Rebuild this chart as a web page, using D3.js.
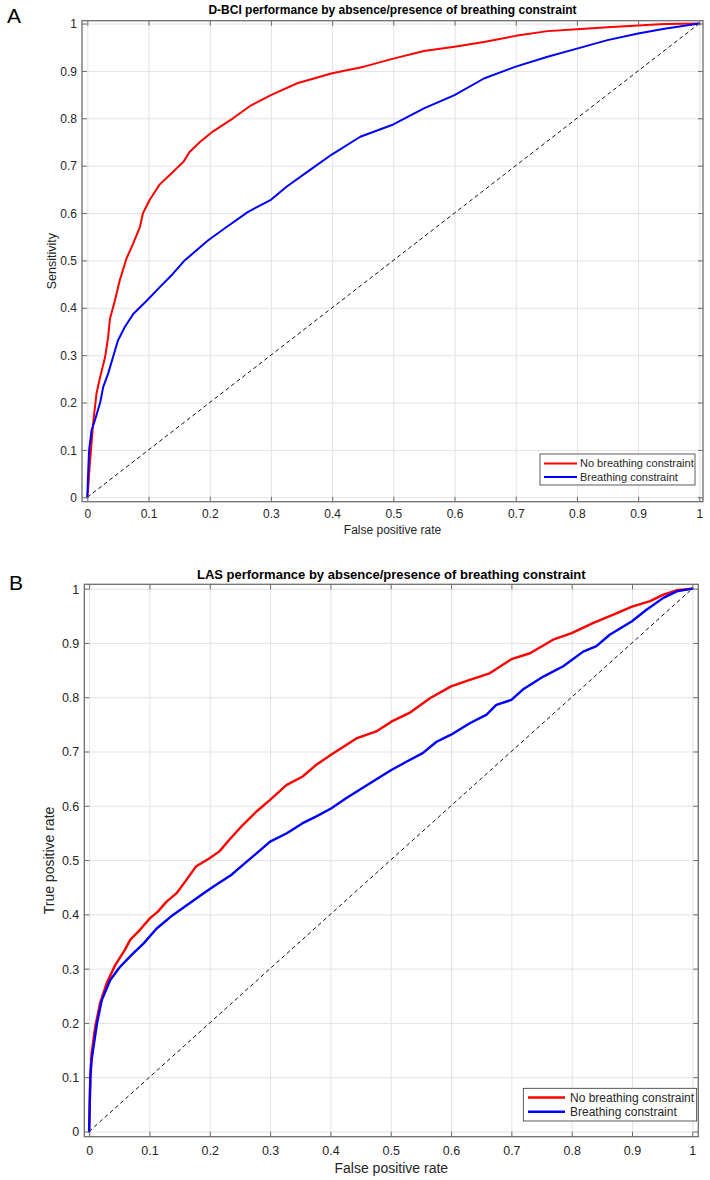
<!DOCTYPE html>
<html>
<head>
<meta charset="utf-8">
<script src="https://cdn.jsdelivr.net/npm/d3@7"></script>
<style>
  body { margin: 0; background: #fff; }
  svg { display: block; font-family: "Liberation Sans", Arial, Helvetica, sans-serif; }
</style>
</head>
<body>
<svg id="chart" width="710" height="1180"></svg>
<script>
// ---------- DATA ----------
const tickValues = [0, 0.1, 0.2, 0.3, 0.4, 0.5, 0.6, 0.7, 0.8, 0.9, 1];
const seriesNames = ["No breathing constraint", "Breathing constraint"];

const titleA = "D-BCI performance by absence/presence of breathing constraint";
const xLabelA = "False positive rate";
const yLabelA = "Sensitivity";
// [false positive rate, sensitivity]
const rocA_none = [[0,0],[0.002,0.03],[0.004,0.07],[0.006,0.1],[0.01,0.163],[0.015,0.219],[0.021,0.254],[0.029,0.296],[0.034,0.338],[0.037,0.377],[0.045,0.415],[0.053,0.458],[0.064,0.504],[0.075,0.536],[0.086,0.571],[0.091,0.6],[0.102,0.628],[0.118,0.66],[0.135,0.681],[0.157,0.708],[0.167,0.729],[0.184,0.75],[0.205,0.772],[0.238,0.8],[0.266,0.826],[0.3,0.849],[0.343,0.874],[0.4,0.895],[0.452,0.909],[0.5,0.926],[0.55,0.942],[0.6,0.951],[0.648,0.961],[0.7,0.974],[0.752,0.984],[0.8,0.988],[0.85,0.992],[0.9,0.996],[0.943,0.999],[1,1]];
const rocA_breath = [[0,0],[0.001,0.04],[0.003,0.1],[0.007,0.142],[0.0125,0.163],[0.021,0.2],[0.026,0.233],[0.034,0.261],[0.042,0.296],[0.05,0.331],[0.061,0.359],[0.075,0.387],[0.097,0.415],[0.118,0.443],[0.14,0.472],[0.159,0.5],[0.178,0.521],[0.197,0.542],[0.227,0.57],[0.262,0.602],[0.3,0.628],[0.326,0.656],[0.364,0.691],[0.4,0.724],[0.446,0.761],[0.5,0.787],[0.55,0.821],[0.6,0.849],[0.648,0.884],[0.7,0.909],[0.752,0.93],[0.8,0.947],[0.85,0.965],[0.9,0.979],[0.943,0.989],[1,1]];

const titleB = "LAS performance by absence/presence of breathing constraint";
const xLabelB = "False positive rate";
const yLabelB = "True positive rate";
const rocB_none = [[0,0],[0.001,0.05],[0.002,0.1],[0.004,0.143],[0.01,0.192],[0.018,0.236],[0.029,0.273],[0.043,0.306],[0.059,0.334],[0.068,0.353],[0.084,0.371],[0.101,0.393],[0.114,0.405],[0.128,0.423],[0.145,0.439],[0.161,0.463],[0.177,0.488],[0.199,0.503],[0.216,0.516],[0.232,0.537],[0.255,0.565],[0.277,0.589],[0.3,0.611],[0.327,0.638],[0.354,0.654],[0.376,0.675],[0.401,0.694],[0.443,0.724],[0.476,0.737],[0.501,0.755],[0.531,0.771],[0.565,0.798],[0.6,0.82],[0.631,0.832],[0.664,0.844],[0.7,0.87],[0.731,0.881],[0.769,0.906],[0.8,0.918],[0.836,0.937],[0.869,0.952],[0.9,0.967],[0.93,0.977],[0.952,0.989],[0.974,0.997],[1,1]];
const rocB_breath = [[0,0],[0.001,0.05],[0.002,0.1],[0.004,0.131],[0.013,0.199],[0.021,0.242],[0.035,0.279],[0.051,0.303],[0.073,0.328],[0.09,0.346],[0.112,0.374],[0.139,0.399],[0.166,0.42],[0.194,0.442],[0.21,0.454],[0.235,0.472],[0.255,0.491],[0.277,0.512],[0.3,0.534],[0.327,0.549],[0.354,0.568],[0.376,0.58],[0.401,0.595],[0.426,0.614],[0.465,0.641],[0.501,0.666],[0.526,0.681],[0.553,0.697],[0.576,0.718],[0.6,0.731],[0.631,0.752],[0.659,0.768],[0.675,0.786],[0.7,0.795],[0.719,0.814],[0.753,0.838],[0.786,0.857],[0.819,0.884],[0.841,0.894],[0.863,0.915],[0.9,0.94],[0.924,0.961],[0.952,0.983],[0.974,0.995],[1,1]];
const chanceLine = [[0,0],[1,1]];

// ---------- LAYOUT ----------
const panels = [
  { letter: "A", title: titleA, xLabel: xLabelA, yLabel: yLabelA, series: [rocA_none, rocA_breath],
    left: 82, right: 703, top: 20.7, bottom: 501.7,
    xDom: [-0.0087, 1.006], yDom: [-0.0093, 1.006],
    tickFont: 12, titleFont: 12, labelFont: 12.5, xLabelFont: 12, legendFont: 11, lineW: 2,
    letterX: 7, letterY: 23, titleY: 14, xTickY: 514, xLabelY: 534, yLabelX: 56,
    legend: { x: 540, y: 454, w: 155, h: 31, lineX0: 544, lineX1: 577, textX: 580, row0: 463.5, row1: 477 } },
  { letter: "B", title: titleB, xLabel: xLabelB, yLabel: yLabelB, series: [rocB_none, rocB_breath],
    left: 84.3, right: 698.3, top: 584.3, bottom: 1136.7,
    xDom: [-0.008, 1.0099], yDom: [-0.0096, 1.008],
    tickFont: 12.5, titleFont: 13, labelFont: 14, xLabelFont: 14, legendFont: 12, lineW: 2.4,
    letterX: 9, letterY: 590, titleY: 579, xTickY: 1150.5, xLabelY: 1173, yLabelX: 54,
    legend: { x: 523.3, y: 1088.3, w: 173.4, h: 32.7, lineX0: 528, lineX1: 565, textX: 570, row0: 1097.5, row1: 1111.7 } }
];
const colors = ["#ff0000", "#0000ff"];
const textColor = "#262626";
const axisColor = "#6e6e6e";
const gridColor = "#e3e3e3";

const svg = d3.select("#chart");
const fmt = d3.format("~g");

panels.forEach(p => {
  const g = svg.append("g");
  const x = d3.scaleLinear().domain(p.xDom).range([p.left, p.right]);
  const y = d3.scaleLinear().domain(p.yDom).range([p.bottom, p.top]);
  const W = p.right - p.left, H = p.bottom - p.top;

  g.append("rect").attr("x", p.left).attr("y", p.top).attr("width", W).attr("height", H).attr("fill", "#fff");

  // grid
  const gx = g.append("g").attr("transform", `translate(0,${p.bottom})`)
    .call(d3.axisBottom(x).tickValues(tickValues).tickSize(-H).tickFormat(""));
  const gy = g.append("g").attr("transform", `translate(${p.left},0)`)
    .call(d3.axisLeft(y).tickValues(tickValues).tickSize(-W).tickFormat(""));
  [gx, gy].forEach(a => {
    a.select(".domain").remove();
    a.selectAll("line").attr("stroke", gridColor).attr("stroke-width", 1);
  });

  // chance line
  const line = d3.line().x(d => x(d[0])).y(d => y(d[1]));
  g.append("path").datum(chanceLine).attr("d", line)
    .attr("fill", "none").attr("stroke", "#111").attr("stroke-width", 1)
    .attr("stroke-dasharray", "4,3");

  // ROC curves
  p.series.forEach((s, i) => {
    g.append("path").datum(s).attr("d", line)
      .attr("fill", "none").attr("stroke", colors[i]).attr("stroke-width", p.lineW)
      .attr("stroke-linejoin", "round").attr("stroke-linecap", "round");
  });

  // axes with inward ticks
  const tick = 5;
  const axB = g.append("g").attr("transform", `translate(0,${p.bottom})`)
    .call(d3.axisBottom(x).tickValues(tickValues).tickSizeInner(-tick).tickSizeOuter(0).tickPadding(0).tickFormat(fmt));
  const axL = g.append("g").attr("transform", `translate(${p.left},0)`)
    .call(d3.axisLeft(y).tickValues(tickValues).tickSizeInner(-tick).tickSizeOuter(0).tickPadding(0).tickFormat(fmt));
  const axT = g.append("g").attr("transform", `translate(0,${p.top})`)
    .call(d3.axisTop(x).tickValues(tickValues).tickSizeInner(-tick).tickSizeOuter(0).tickFormat(""));
  const axR = g.append("g").attr("transform", `translate(${p.right},0)`)
    .call(d3.axisRight(y).tickValues(tickValues).tickSizeInner(-tick).tickSizeOuter(0).tickFormat(""));
  [axB, axL, axT, axR].forEach(a => {
    a.select(".domain").remove();
    a.selectAll("line").attr("stroke", axisColor).attr("stroke-width", 1);
  });
  axB.attr("font-family", null); axL.attr("font-family", null);
  axB.selectAll("text").attr("y", p.xTickY - p.bottom).attr("dy", "0.35em")
    .attr("fill", textColor).style("font-size", p.tickFont + "px");
  axL.selectAll("text").attr("x", -5).attr("dy", "0.35em")
    .attr("fill", textColor).style("font-size", p.tickFont + "px");

  // box
  g.append("rect").attr("x", p.left).attr("y", p.top).attr("width", W).attr("height", H)
    .attr("fill", "none").attr("stroke", axisColor).attr("stroke-width", 1.3);

  // title & labels
  g.append("text").attr("x", (p.left + p.right) / 2).attr("y", p.titleY)
    .attr("text-anchor", "middle").attr("font-weight", "bold").attr("font-size", p.titleFont)
    .attr("fill", "#000").text(p.title);
  g.append("text").attr("x", p.letterX).attr("y", p.letterY)
    .attr("font-size", 21).attr("fill", "#000").text(p.letter);
  g.append("text").attr("x", (p.left + p.right) / 2).attr("y", p.xLabelY)
    .attr("text-anchor", "middle").attr("font-size", p.xLabelFont).attr("fill", textColor).text(p.xLabel);
  g.append("text").attr("transform", `translate(${p.yLabelX},${(p.top + p.bottom) / 2}) rotate(-90)`)
    .attr("text-anchor", "middle").attr("font-size", p.labelFont).attr("fill", textColor).text(p.yLabel);

  // legend
  const L = p.legend;
  g.append("rect").attr("x", L.x).attr("y", L.y).attr("width", L.w).attr("height", L.h)
    .attr("fill", "#fff").attr("stroke", "#333").attr("stroke-width", 0.8);
  seriesNames.forEach((name, i) => {
    const ry = i === 0 ? L.row0 : L.row1;
    g.append("line").attr("x1", L.lineX0).attr("x2", L.lineX1).attr("y1", ry).attr("y2", ry)
      .attr("stroke", colors[i]).attr("stroke-width", p.lineW);
    g.append("text").attr("x", L.textX).attr("y", ry).attr("dy", "0.35em")
      .attr("font-size", p.legendFont).attr("fill", textColor).text(name);
  });
});
</script>
</body>
</html>
